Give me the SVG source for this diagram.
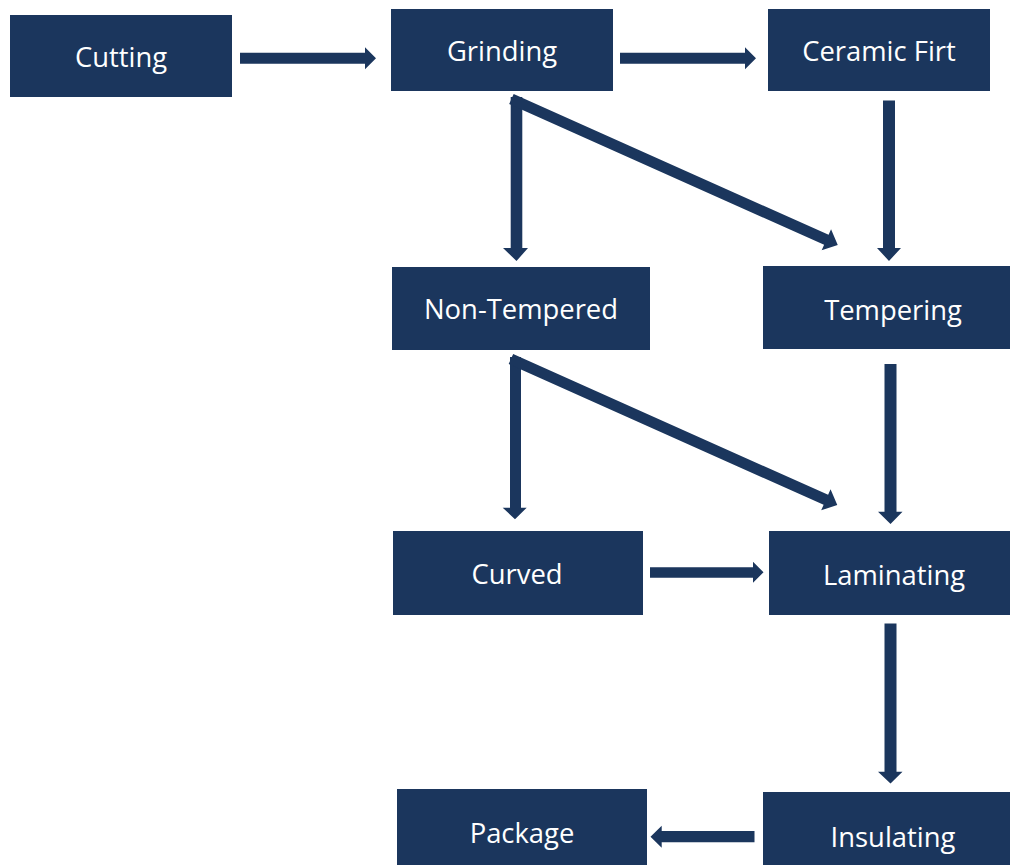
<svg xmlns="http://www.w3.org/2000/svg" width="1010" height="865" viewBox="0 0 1010 865">
<defs>
<style>
.box{fill:#1b365d}
.lbl{fill:#ffffff;font-family:"Open Sans","Liberation Sans",sans-serif;font-size:27.4px;text-anchor:middle}
.arr{fill:#1b365d}
</style>
</defs>
<rect width="1010" height="865" fill="#ffffff"/>
<g id="cutting"><rect class="box" x="10" y="15" width="222" height="82"/><text class="lbl" x="121" y="66.5">Cutting</text></g>
<g id="grinding"><rect class="box" x="391" y="9" width="222" height="82"/><text class="lbl" x="502" y="60.5">Grinding</text></g>
<g id="ceramic"><rect class="box" x="768" y="9" width="222" height="82"/><text class="lbl" x="879" y="60.5">Ceramic Firt</text></g>
<g id="nontempered"><rect class="box" x="392" y="267" width="258" height="83"/><text class="lbl" x="521" y="318.5">Non-Tempered</text></g>
<g id="tempering"><rect class="box" x="763" y="266" width="247" height="83"/><text class="lbl" x="893" y="319.5">Tempering</text></g>
<g id="curved"><rect class="box" x="393" y="531" width="250" height="84"/><text class="lbl" x="517" y="583.5">Curved</text></g>
<g id="laminating"><rect class="box" x="769" y="531" width="241" height="84"/><text class="lbl" x="894" y="584.5">Laminating</text></g>
<g id="package"><rect class="box" x="397" y="789" width="250" height="76"/><text class="lbl" x="522" y="842.5">Package</text></g>
<g id="insulating"><rect class="box" x="763" y="792" width="247" height="73"/><text class="lbl" x="893" y="846.5">Insulating</text></g>
<g id="connectors" class="arr">
<polygon points="240,52.7 365,52.7 365,47.3 376,58.3 365,69.3 365,63.7 240,63.7"/>
<polygon points="620,52.7 745,52.7 745,47.3 756,58.3 745,69.3 745,63.7 620,63.7"/>
<polygon points="510.7,97 522.3,97 522.3,248 528,248 516.5,261 503,248 510.7,248"/>
<polygon transform="translate(516,101) rotate(24.1)" points="-5,-5.5 340,-5.5 340,-11.5 352.5,0 340,11.5 340,5.5 -5,5.5"/>
<polygon points="883,100.5 895,100.5 895,248 901,248 889,261 877,248 883,248"/>
<polygon points="510,357 521,357 521,507.7 526.7,507.7 515,519.3 502.7,507.7 510,507.7"/>
<polygon transform="translate(515.5,361) rotate(24.1)" points="-5,-5.5 340,-5.5 340,-11.5 352.5,0 340,11.5 340,5.5 -5,5.5"/>
<polygon points="884.5,364 896.5,364 896.5,511.7 902.5,511.7 890.5,524 878,511.7 884.5,511.7"/>
<polygon points="650,567.3 753,567.3 753,561.7 763.5,572.3 753,582.7 753,577.7 650,577.7"/>
<polygon points="884.5,623.5 896.5,623.5 896.5,771.7 902.5,771.7 890.5,783.5 878,771.7 884.5,771.7"/>
<polygon points="754.5,831 661.7,831 661.7,825.7 650.5,836.7 661.7,847.7 661.7,842.3 754.5,842.3"/>
</g>
</svg>
